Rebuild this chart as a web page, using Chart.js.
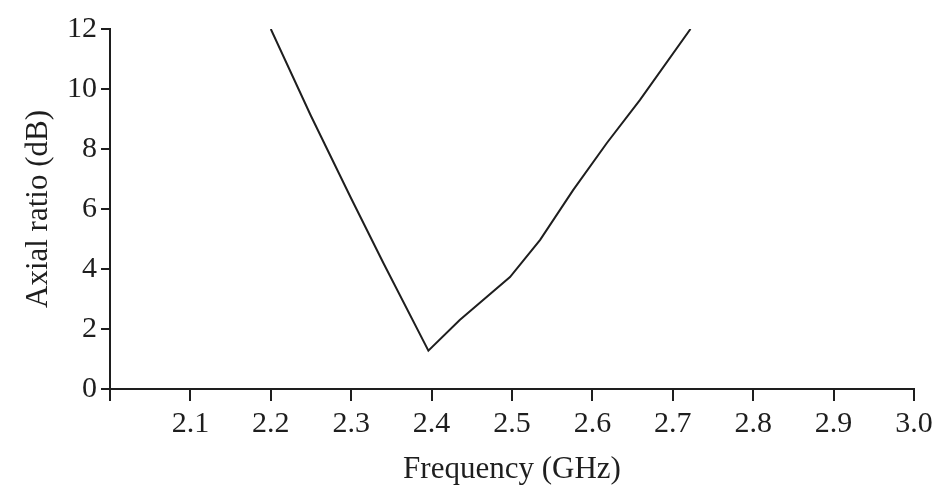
<!DOCTYPE html>
<html>
<head>
<meta charset="utf-8">
<script src="https://cdn.jsdelivr.net/npm/chart.js@4.4.1/dist/chart.umd.min.js"></script>
<style>
  html, body { margin: 0; padding: 0; background: #fff; }
  #wrap { width: 943px; height: 490px; position: relative; }
</style>
</head>
<body>
<div id="wrap"><canvas id="chart"></canvas></div>
<script>
// values
const frequency = [2.2, 2.25, 2.3, 2.34, 2.396, 2.435, 2.4975, 2.535, 2.576, 2.618, 2.659, 2.722]
const axialRatio = [12.0, 9.1, 6.35, 4.2, 1.28, 2.3, 3.73, 4.97, 6.63, 8.2, 9.63, 12.0]

const xMin = 2.0
const xMax = 3.0
const yMin = 0
const yMax = 12

const ink = '#1e1e1e'
const serif = "'Liberation Serif', 'DejaVu Serif', serif"

const points = frequency.map((f, i) => ({ x: f, y: axialRatio[i] }))

new Chart(document.getElementById('chart'), {
  type: 'line',
  data: {
    datasets: [{
      label: 'Axial ratio',
      data: points,
      borderColor: ink,
      borderWidth: 2,
      pointRadius: 0,
      tension: 0,
      fill: false
    }]
  },
  options: {
    responsive: true,
    maintainAspectRatio: false,
    animation: false,
    layout: { padding: { left: 0, right: 29, top: 29, bottom: 0 } },
    plugins: {
      legend: { display: false },
      tooltip: { enabled: false }
    },
    scales: {
      x: {
        type: 'linear',
        min: xMin,
        max: xMax,
        afterFit: (scale) => { scale.height = 101 },
        grid: { drawOnChartArea: false, drawTicks: true, tickLength: 12, color: ink, lineWidth: 2 },
        border: { color: ink, width: 2 },
        ticks: {
          stepSize: 0.1,
          color: ink,
          padding: 5,
          maxRotation: 0,
          font: { family: serif, size: 30 },
          callback: (v) => v < xMin + 0.0001 ? '' : v.toFixed(1)
        },
        title: {
          display: true,
          text: 'Frequency (GHz)',
          color: ink,
          font: { family: serif, size: 31 },
          padding: { top: 0, bottom: 2 }
        }
      },
      y: {
        min: yMin,
        max: yMax,
        afterFit: (scale) => { scale.width = 110 },
        grid: { drawOnChartArea: false, drawTicks: true, tickLength: 9, color: ink, lineWidth: 2 },
        border: { color: ink, width: 2 },
        ticks: {
          stepSize: 2,
          color: ink,
          padding: 4,
          font: { family: serif, size: 30 }
        },
        title: {
          display: true,
          text: 'Axial ratio (dB)',
          color: ink,
          font: { family: serif, size: 31 },
          padding: { top: 20, bottom: 0 }
        }
      }
    }
  }
})
</script>
</body>
</html>
